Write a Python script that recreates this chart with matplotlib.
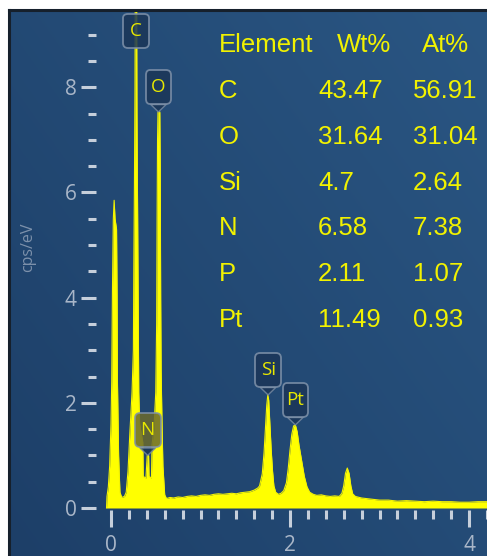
import numpy as np
import matplotlib
matplotlib.use("Agg")
import matplotlib.pyplot as plt
from matplotlib.ticker import MultipleLocator
from matplotlib.offsetbox import AnnotationBbox, DrawingArea
from matplotlib.text import Text

# EDS spectrum (keV, cps/eV)
spectrum_kev = [
    -0.05, -0.045, -0.03, -0.015, 0.0, 0.008, 0.012, 0.016, 0.026, 0.035, 0.045, 0.062, 0.068, 0.072, 0.085, 0.10,
    0.12, 0.15, 0.17, 0.19, 0.21, 0.235, 0.25, 0.255, 0.262, 0.268, 0.272, 0.285, 0.29, 0.298, 0.305, 0.31,
    0.32, 0.34, 0.355, 0.36, 0.39, 0.398, 0.405, 0.42, 0.425, 0.452, 0.458, 0.48,
    0.50, 0.51, 0.515, 0.52, 0.525, 0.545, 0.55, 0.555, 0.56, 0.57, 0.58, 0.60, 0.62,
    0.66, 0.70, 0.75, 0.80, 0.85, 0.90, 0.95, 1.00, 1.05, 1.10, 1.15, 1.20, 1.25, 1.30, 1.35, 1.40, 1.45,
    1.50, 1.55, 1.60, 1.64,
    1.66, 1.69, 1.71, 1.725, 1.74, 1.752, 1.762, 1.775, 1.79, 1.805, 1.82, 1.84, 1.87, 1.90,
    1.93, 1.96, 1.98, 2.00, 2.02, 2.04, 2.06, 2.08, 2.10, 2.13, 2.16, 2.19, 2.22, 2.26, 2.30, 2.35,
    2.40, 2.45, 2.50, 2.55,
    2.58, 2.60, 2.62, 2.64, 2.66, 2.68, 2.70, 2.73, 2.80,
    2.90, 3.00, 3.10, 3.20, 3.30, 3.40, 3.50, 3.60, 3.70, 3.80, 3.90, 4.00, 4.10, 4.20,
]
spectrum_cps = [
    0.0, 0.22, 0.40, 0.80, 1.60, 2.40, 3.30, 4.10, 5.50, 5.85, 5.50, 5.30, 4.00, 2.40, 1.00, 0.30,
    0.20, 0.22, 0.30, 0.70, 1.40, 2.20, 3.00, 4.50, 6.20, 8.00, 10.5, 10.5, 7.50, 5.50, 3.50, 2.20,
    1.60, 1.40, 1.25, 0.60, 0.57, 0.80, 1.00, 1.00, 0.60, 0.57, 1.20, 1.50,
    2.20, 3.50, 5.50, 7.00, 7.53, 7.53, 6.50, 4.00, 2.60, 1.60, 0.80, 0.25, 0.18,
    0.20, 0.19, 0.21, 0.20, 0.22, 0.23, 0.22, 0.24, 0.25, 0.24, 0.26, 0.27, 0.26, 0.27, 0.28, 0.27, 0.29,
    0.30, 0.31, 0.34, 0.38,
    0.42, 0.65, 1.05, 1.50, 1.95, 2.15, 2.05, 1.60, 1.10, 0.70, 0.42, 0.30, 0.26, 0.28,
    0.33, 0.48, 0.75, 1.10, 1.40, 1.56, 1.58, 1.45, 1.20, 0.90, 0.60, 0.40, 0.30, 0.26, 0.24, 0.25,
    0.23, 0.22, 0.23, 0.22,
    0.28, 0.42, 0.66, 0.76, 0.66, 0.42, 0.27, 0.22, 0.19,
    0.17, 0.15, 0.15, 0.13, 0.14, 0.13, 0.12, 0.13, 0.12, 0.12, 0.11, 0.11, 0.12, 0.12,
]

# peak markers
label_names = ["C", "O", "N", "Si", "Pt"]
label_kev = [0.28, 0.53, 0.41, 1.755, 2.06]
label_cps = [8.6, 7.53, 1.0, 2.15, 1.58]

# quantification table
elements = ["C", "O", "Si", "N", "P", "Pt"]
wt_pct = ["43.47", "31.64", "4.7", "6.58", "2.11", "11.49"]
at_pct = ["56.91", "31.04", "2.64", "7.38", "1.07", "0.93"]

W, H = 487, 556
fig = plt.figure(figsize=(W / 100, H / 100), dpi=100, facecolor="white")

# dark blue panel with a soft gradient
bg = fig.add_axes([9 / W, 0, 1 - 9 / W, (H - 10) / H])
gx, gy = np.meshgrid(np.linspace(0, 1, 200), np.linspace(0, 1, 200))
g = 0.55 * gx + 0.45 * (1 - gy)
c0 = np.array([0x1d, 0x3f, 0x68]) / 255
c1 = np.array([0x2a, 0x56, 0x83]) / 255
img = c0 + (c1 - c0) * g[..., None]
bg.imshow(img, aspect="auto", extent=(0, 1, 0, 1), origin="upper")
bg.set_xticks([])
bg.set_yticks([])
for side in ["right", "bottom"]:
    bg.spines[side].set_visible(False)
for side in ["left", "top"]:
    bg.spines[side].set_color("#16202c")
    bg.spines[side].set_linewidth(2.2)

# spectrum axes
x_px0, x_px1 = 96, 487
y_px0, y_px1 = 510, 12
ax = fig.add_axes([x_px0 / W, (H - y_px0) / H, (x_px1 - x_px0) / W, (y_px0 - y_px1) / H])
ax.set_facecolor("none")
ax.set_xlim((x_px0 - 111) / 89.5, (x_px1 - 111) / 89.5)
ax.set_ylim((508 - y_px0) / 52.6, (508 - y_px1) / 52.6)
for s in ax.spines.values():
    s.set_visible(False)

ax.fill_between(spectrum_kev, 0, spectrum_cps, color="#ffff00", lw=0, zorder=2)
ax.plot(spectrum_kev, spectrum_cps, color="#f5f500", lw=0.8, zorder=2)

ax.xaxis.set_major_locator(MultipleLocator(2))
ax.xaxis.set_minor_locator(MultipleLocator(0.2))
ax.yaxis.set_major_locator(MultipleLocator(2))
ax.yaxis.set_minor_locator(MultipleLocator(0.5))
tick_col = "#c6cfdb"
ax.tick_params(axis="both", which="both", direction="out", color=tick_col, width=2.2)
ax.tick_params(axis="x", which="major", length=12, pad=6)
ax.tick_params(axis="x", which="minor", length=6.5)
ax.tick_params(axis="y", which="major", length=11, pad=3)
ax.tick_params(axis="y", which="minor", length=5.5)
for lab in ax.get_xticklabels() + ax.get_yticklabels():
    lab.set_fontfamily("Open Sans")
    lab.set_fontsize(15)
    lab.set_color("#a9b6c8")

fig.text(28.5 / W, 1 - 247 / H, "cps/eV", rotation=90, ha="center", va="center",
         fontsize=11.5, color="#7d91ab", family="Open Sans")

# element callouts: fixed-size rounded tags with a pointer to the peak
box_w, box_h = 18.5, 24.5
for name, e, c in zip(label_names, label_kev, label_cps):
    fc = "#6b6a2e" if name == "N" else "#1b3658"
    da = DrawingArea(box_w, box_h, clip=False)
    da.add_artist(Text(box_w / 2, box_h / 2, name, ha="center", va="center",
                       fontsize=13.5, color="#e8e800", family="Open Sans"))
    arrow = None
    if name != "C":
        arrow = dict(arrowstyle="wedge,tail_width=0.8,shrink_factor=0.5",
                     fc="#1b3658", ec="#7588a0", lw=1.0, alpha=0.85,
                     shrinkA=0, shrinkB=0)
    ab = AnnotationBbox(da, (e, c), xybox=(0, 5.8 + box_h / 2), boxcoords="offset points",
                        frameon=True, pad=0.0, zorder=5, arrowprops=arrow,
                        bboxprops=dict(boxstyle="round,pad=0,rounding_size=0.35",
                                       fc=fc, ec="#7f92aa", lw=1.3, alpha=0.85))
    ax.add_artist(ab)

# composition table
txt = dict(color="#f2f200", fontsize=18.5, family="Liberation Sans", va="center", ha="left")
fig.text(219 / W, 1 - 45 / H, "Element", **txt)
fig.text(337 / W, 1 - 45 / H, "Wt%", **txt)
fig.text(422 / W, 1 - 45 / H, "At%", **txt)
for i, (el, wt, at) in enumerate(zip(elements, wt_pct, at_pct)):
    y = 1 - (91 + 45.8 * i) / H
    fig.text(219 / W, y, el, **txt)
    fig.text(318 / W, y, wt, **txt)
    fig.text(413 / W, y, at, **txt)

fig.savefig("out.png", dpi=100, facecolor="white")
